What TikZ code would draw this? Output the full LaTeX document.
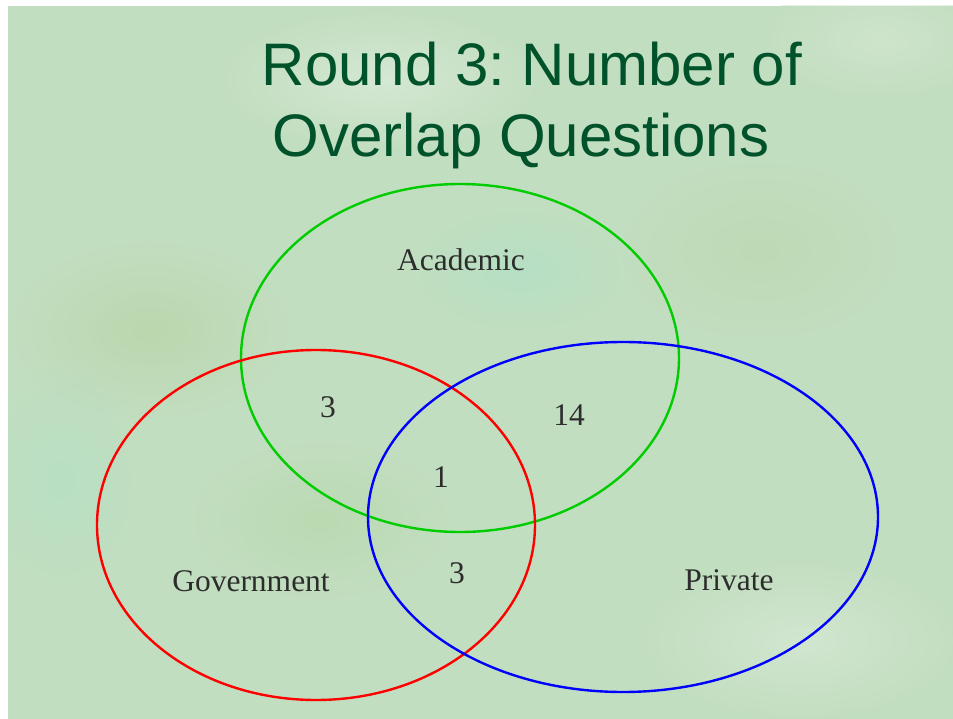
\documentclass[tikz,border=0pt]{standalone}
\usepackage{fontspec}
\setmainfont{Liberation Serif}
\newfontfamily\titlefont{Liberation Sans}
\definecolor{bgbase}{RGB}{194,222,192}
\definecolor{titlegreen}{RGB}{0,82,42}
\definecolor{labelgray}{RGB}{45,45,45}
\definecolor{vgreen}{RGB}{0,204,0}
\definecolor{vred}{RGB}{255,0,0}
\definecolor{vblue}{RGB}{0,0,255}
\tikzset{
  venn/.style={line width=2.4pt},
  vlabel/.style={anchor=base, inner sep=0pt, text=labelgray, font=\fontsize{31.5}{36}\selectfont},
  titleline/.style={anchor=base, inner sep=0pt, text=titlegreen, font=\titlefont\fontsize{60}{70}\selectfont}
}
\begin{document}
\frenchspacing
\begin{tikzpicture}[x=1pt,y=-1pt]
\useasboundingbox (0,0) rectangle (953,719);
\fill[white] (0,0) rectangle (953,719);
\fill[bgbase] (8,6) rectangle (953,719);
\begin{scope}
\clip (8,6) rectangle (953,719);
\shade[inner color=green!30!brown!40!bgbase, outer color=bgbase, opacity=0.3] (150,330) ellipse (140 and 90);
\shade[inner color=white!60!bgbase, outer color=bgbase, opacity=0.5] (380,80) ellipse (160 and 70);
\shade[inner color=cyan!20!bgbase, outer color=bgbase, opacity=0.3] (520,270) ellipse (120 and 70);
\shade[inner color=green!40!brown!35!bgbase, outer color=bgbase, opacity=0.25] (320,520) ellipse (130 and 80);
\shade[inner color=white!50!bgbase, outer color=bgbase, opacity=0.5] (800,640) ellipse (160 and 80);
\shade[inner color=green!30!brown!30!bgbase, outer color=bgbase, opacity=0.25] (760,250) ellipse (140 and 90);
\shade[inner color=cyan!25!bgbase, outer color=bgbase, opacity=0.2] (60,480) ellipse (90 and 120);
\shade[inner color=white!50!bgbase, outer color=bgbase, opacity=0.4] (880,40) ellipse (120 and 60);
\end{scope}

\node[titleline] (t1) at (532,86) {Round 3: Number of};
\node[titleline] (t2) at (521,157) {Overlap Questions};

\draw[venn, vgreen] (460,358) ellipse (219 and 174);
\draw[venn, vred] (316,525) ellipse (219 and 175);
\draw[venn, vblue] (623,517) ellipse (255 and 175);

\node[vlabel] (acad) at (461,271) {Academic};
\node[vlabel] (gov) at (251,591) {Government};
\node[vlabel] (priv) at (729,590) {Private};
\node[vlabel] (ag) at (328,417) {3};
\node[vlabel] (ap) at (569,425) {14};
\node[vlabel] (agp) at (441,487) {1};
\node[vlabel] (gp) at (457,583) {3};
\end{tikzpicture}
\end{document}
